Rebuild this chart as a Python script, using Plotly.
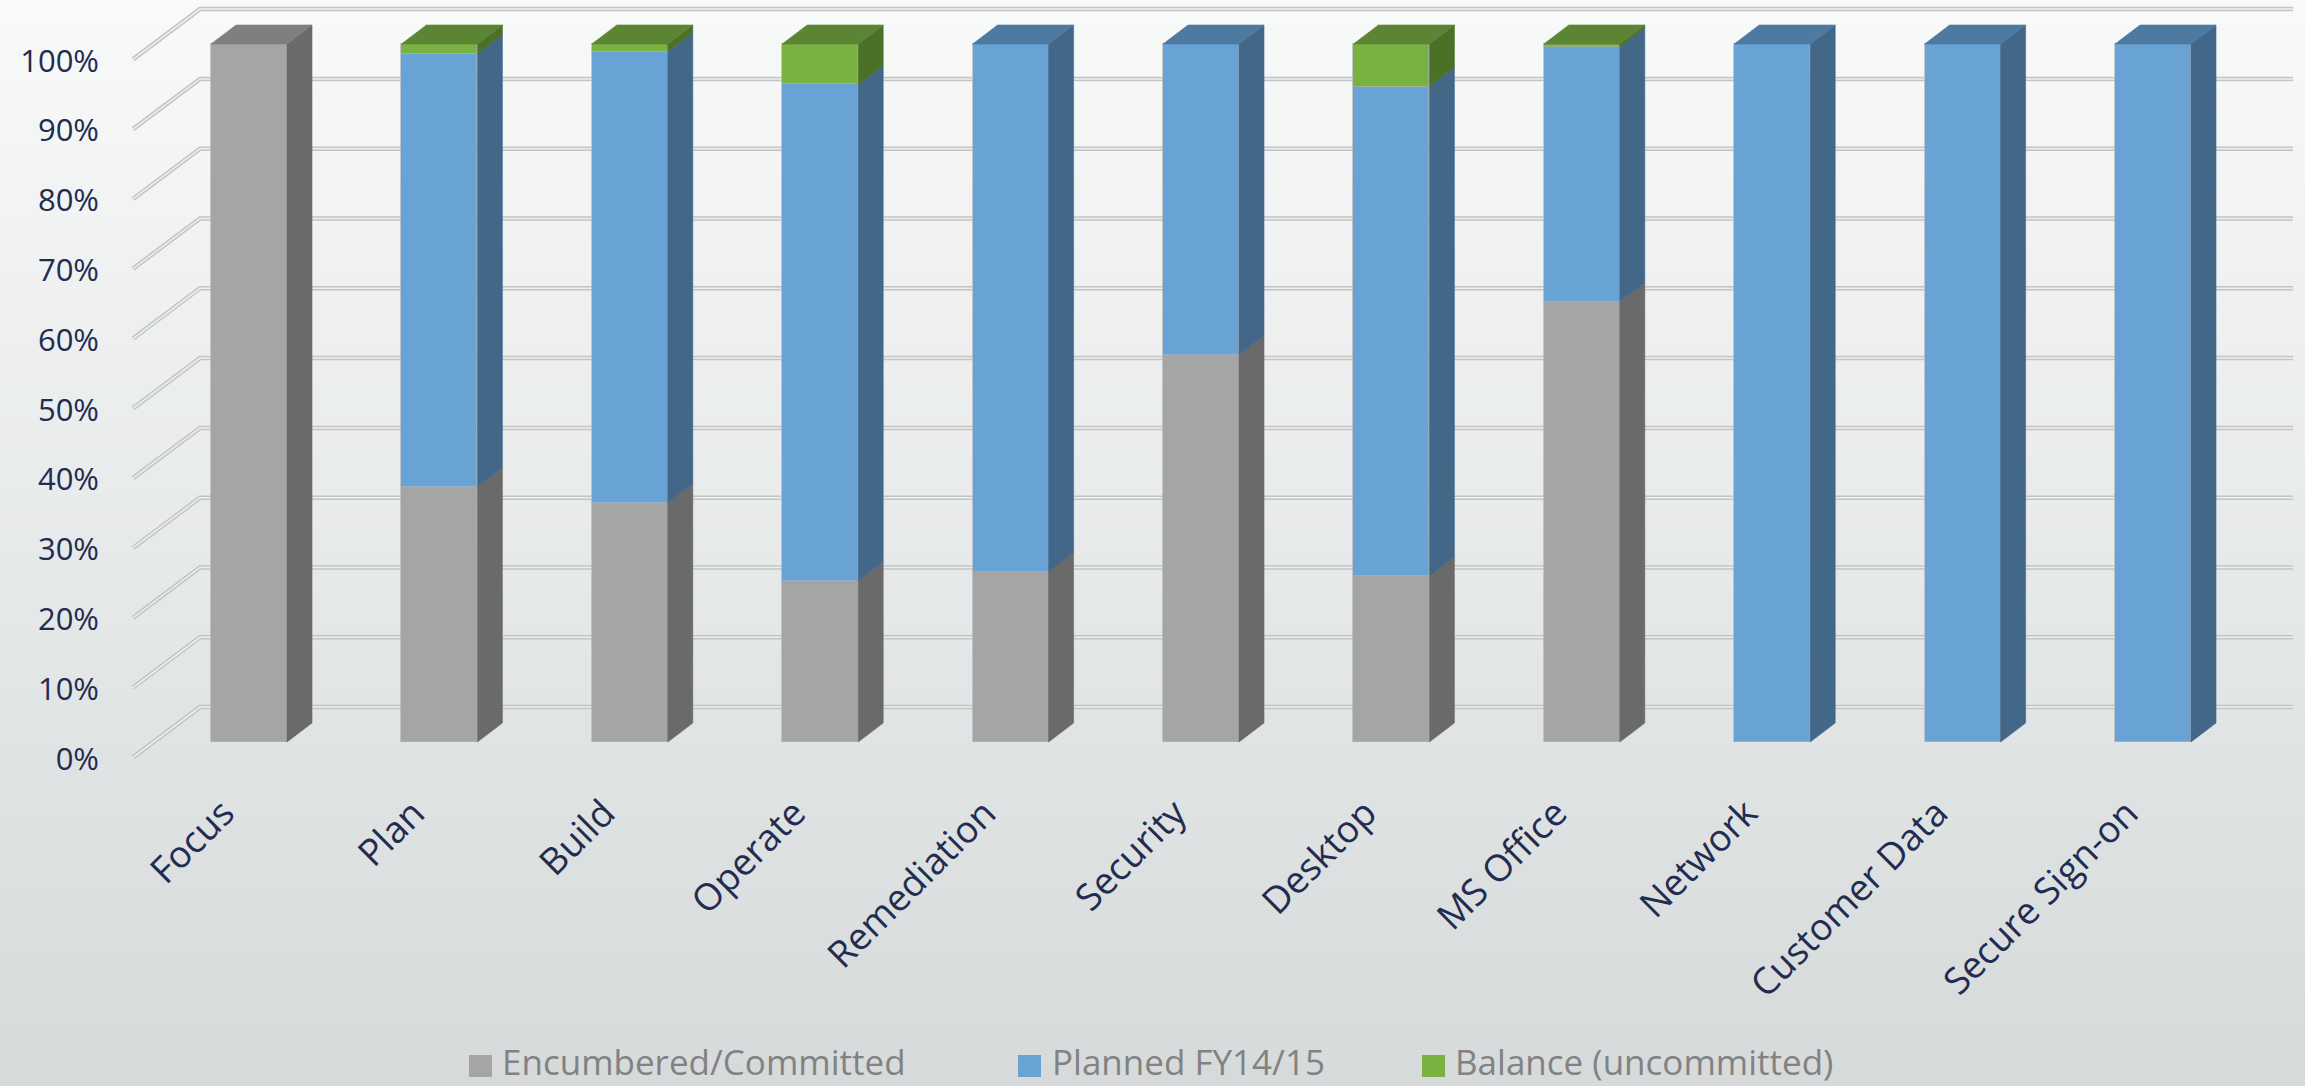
import plotly.graph_objects as go

# ---------------- data ----------------
categories = ["Focus", "Plan", "Build", "Operate", "Remediation", "Security",
              "Desktop", "MS Office", "Network", "Customer Data", "Secure Sign-on"]
encumbered = [100, 36.6, 34.3, 23.1, 24.4, 55.5, 23.8, 63.1, 0, 0, 0]
planned = [0, 62.0, 64.6, 71.1, 75.6, 44.5, 70.1, 36.5, 100, 100, 100]
balance = [0, 1.4, 1.1, 5.8, 0, 0, 6.1, 0.4, 0, 0, 0]
series_names = ["Encumbered/Committed", "Planned FY14/15", "Balance (uncommitted)"]
y_ticks = list(range(0, 101, 10))
y_tick_labels = [f"{t}%" for t in y_ticks]

# ---------------- style / geometry ----------------
W, H = 2305, 1086
PX_X, X0_PX = 190.4, 249.0      # px per category, px of first bar centre
PX_Y, Y0_PX = 6.98, 742.0       # px per %, px of 0 %
PL, PR, PT, PB = 116, 2301, 0, 770   # plot area in px

def xd(px):
    return (px - X0_PX) / PX_X

def yd(py):
    return (Y0_PX - py) / PX_Y

BAR_W = 76 / PX_X
DX, DY = 25 / PX_X, 19 / PX_Y           # bar depth offset
front_colors = ["#A5A5A5", "#69A3D6", "#79B143"]
side_colors = ["#6A6A6A", "#426789", "#4B7129"]
top_colors = ["#7F7F7F", "#4E79A1", "#5B8533"]
FONT = "Open Sans"
TXT = "#212C50"

series = [encumbered, planned, balance]
n = len(categories)

fig = go.Figure()

# front faces (stacked bars)
for name, vals, col in zip(series_names, series, front_colors):
    fig.add_trace(go.Bar(
        x=list(range(n)), y=vals, name=name, width=BAR_W,
        marker=dict(color=col, line=dict(color="rgba(175,180,185,0.7)", width=1)),
        showlegend=False, hoverinfo="skip"))

# side faces and top faces
bases = [0.0] * n
tops_x, tops_y = [[], [], []], [[], [], []]
for s, vals in enumerate(series):
    sx, sy = [], []
    for i, v in enumerate(vals):
        if v <= 0:
            continue
        y0, y1 = bases[i], bases[i] + v
        xr = i + BAR_W / 2
        sx += [xr, xr + DX, xr + DX, xr, xr, None]
        sy += [y0, y0 + DY, y1 + DY, y1, y0, None]
        bases[i] = y1
    fig.add_trace(go.Scatter(x=sx, y=sy, mode="lines", fill="toself",
                             fillcolor=side_colors[s], line=dict(width=0.6, color=side_colors[s]),
                             showlegend=False, hoverinfo="skip"))

for i in range(n):
    top_s = max(s for s in range(3) if series[s][i] > 0)
    t = bases[i]
    xl, xr = i - BAR_W / 2, i + BAR_W / 2
    tops_x[top_s] += [xl, xr, xr + DX, xl + DX, xl, None]
    tops_y[top_s] += [t, t, t + DY, t + DY, t, None]
for s in range(3):
    if tops_x[s]:
        fig.add_trace(go.Scatter(x=tops_x[s], y=tops_y[s], mode="lines", fill="toself",
                                 fillcolor=top_colors[s], line=dict(width=0.6, color=top_colors[s]),
                                 showlegend=False, hoverinfo="skip"))

shapes = []
# background gradient bands
top_rgb = (248, 249, 249)
bot_rgb = (214, 218, 219)
NB = 90
pw, ph = PR - PL, PB - PT
for k in range(NB):
    f = k / (NB - 1)
    c = tuple(round(top_rgb[j] + (bot_rgb[j] - top_rgb[j]) * f) for j in range(3))
    py0 = H * k / NB
    py1 = H * (k + 1) / NB + 1
    shapes.append(dict(type="rect", xref="paper", yref="paper", layer="below",
                       x0=(0 - PL) / pw, x1=(W - PL) / pw,
                       y0=(PB - py1) / ph, y1=(PB - py0) / ph,
                       line=dict(width=0), fillcolor="rgb(%d,%d,%d)" % c))

# gridlines: side wall diagonal + back wall
FRONT_OFF, BACK_OFF = -2.2, 5.0
xa, xb, xc = xd(133), xd(200), xd(2293)
for t in y_ticks:
    path = f"M {xa},{t + FRONT_OFF} L {xb},{t + BACK_OFF} L {xc},{t + BACK_OFF}"
    shapes.append(dict(type="path", xref="x", yref="y", layer="below", path=path,
                       line=dict(color="#C2C4C5", width=4.5)))
    shapes.append(dict(type="path", xref="x", yref="y", layer="below", path=path,
                       line=dict(color="#EEEFEF", width=1.5)))

# manual legend
annotations = []
leg_sq = [(469, 492), (1018, 1041), (1422, 1445)]
leg_tx = [500, 1050, 1453]
LEG_Y = 1066
for s in range(3):
    x0p, x1p = leg_sq[s]
    shapes.append(dict(type="rect", xref="paper", yref="paper",
                       x0=(x0p - PL) / pw, x1=(x1p - PL) / pw,
                       y0=(PB - (LEG_Y + 11)) / ph, y1=(PB - (LEG_Y - 11)) / ph,
                       line=dict(width=0), fillcolor=front_colors[s]))
    annotations.append(dict(xref="paper", yref="paper", x=(leg_tx[s] - PL) / pw,
                            y=(PB - 1061) / ph, xanchor="left", yanchor="middle",
                            showarrow=False, text=series_names[s],
                            font=dict(family=FONT, size=35, color="#828282")))

fig.update_layout(
    width=W, height=H,
    margin=dict(l=PL, r=W - PR, t=PT, b=H - PB, pad=0),
    paper_bgcolor="#E8EAEA", plot_bgcolor="rgba(0,0,0,0)",
    barmode="stack", bargap=0,
    shapes=shapes, annotations=annotations,
    showlegend=False,
    xaxis=dict(range=[xd(PL), xd(PR)], showgrid=False, zeroline=False, showline=False,
               tickmode="array", tickvals=[i - 0.135 for i in range(n)], ticktext=categories,
               tickangle=-45, ticks="", ticklabelstandoff=13,
               tickfont=dict(family=FONT, size=37, color=TXT)),
    yaxis=dict(range=[yd(PB), yd(PT)], showgrid=False, zeroline=False, showline=False,
               tickmode="array", tickvals=[t - 2.4 for t in y_ticks], ticktext=y_tick_labels,
               ticks="", ticklabelstandoff=16,
               tickfont=dict(family=FONT, size=31, color=TXT)),
)

fig.write_html("out.html")
